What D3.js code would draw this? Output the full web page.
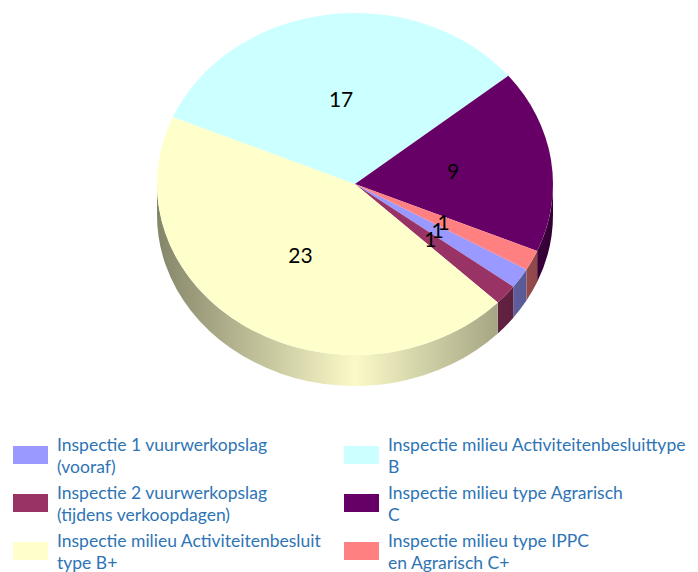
<!DOCTYPE html>
<html>
<head>
<meta charset="utf-8">
<script src="https://cdn.jsdelivr.net/npm/d3@7"></script>
<style>
  body { margin: 0; background: #fff; }
  svg { display: block; }
</style>
</head>
<body>
<script>
// slice data, in legend order (column by column)
var categories = [
    "Inspectie 1 vuurwerkopslag\n(vooraf)",
    "Inspectie 2 vuurwerkopslag\n(tijdens verkoopdagen)",
    "Inspectie milieu Activiteitenbesluit\ntype B+",
    "Inspectie milieu Activiteitenbesluittype\nB",
    "Inspectie milieu type Agrarisch\nC",
    "Inspectie milieu type IPPC\nen Agrarisch C+"
];
var values = [1, 1, 23, 17, 9, 1];
var colors = ["#9999ff", "#993366", "#ffffcc", "#ccffff", "#660066", "#ff8080"];

var width = 698, height = 572;
var cx = 355, cy = 184, rx = 198, ry = 171, depth = 31;

var svg = d3.select("body").append("svg")
    .attr("width", width)
    .attr("height", height);

var defs = svg.append("defs");

var pie = d3.pie()
    .sort(null)
    .startAngle(120 * Math.PI / 180)
    .endAngle(120 * Math.PI / 180 + 2 * Math.PI);

var arcs = pie(values);

// point on the top ellipse for a d3 angle (0 = 12 o'clock, clockwise)
function pt(a, dy) {
    return [cx + rx * Math.sin(a), cy - ry * Math.cos(a) + (dy || 0)];
}

// shading of the side wall, dark at the edges and light in front
var shade = d3.scaleLinear().domain([0, 0.5, 1]).range([0.52, 0.98, 0.52]);
colors.forEach(function(c, i) {
    var g = defs.append("linearGradient")
        .attr("id", "side" + i)
        .attr("gradientUnits", "userSpaceOnUse")
        .attr("x1", cx - rx).attr("x2", cx + rx)
        .attr("y1", 0).attr("y2", 0);
    [0, 0.15, 0.3, 0.42, 0.5, 0.58, 0.7, 0.85, 1].forEach(function(o) {
        var k = shade(o);
        var col = d3.rgb(c);
        g.append("stop")
            .attr("offset", o)
            .attr("stop-color", d3.rgb(col.r * k, col.g * k, col.b * k));
    });
});

// side walls, only the front half (pi/2 .. 3pi/2) shows
var sides = svg.append("g");
arcs.forEach(function(d, i) {
    var segs = [[Math.PI / 2, 3 * Math.PI / 2], [Math.PI / 2 + 2 * Math.PI, 3 * Math.PI / 2 + 2 * Math.PI]];
    segs.forEach(function(s) {
        var a0 = Math.max(d.startAngle, s[0]), a1 = Math.min(d.endAngle, s[1]);
        if (a1 <= a0) return;
        var p0 = pt(a0), p1 = pt(a1), q1 = pt(a1, depth), q0 = pt(a0, depth);
        var large = (a1 - a0) > Math.PI ? 1 : 0;
        sides.append("path")
            .attr("d", "M" + p0 + "A" + rx + "," + ry + " 0 " + large + " 1 " + p1 +
                "L" + q1 + "A" + rx + "," + ry + " 0 " + large + " 0 " + q0 + "Z")
            .attr("fill", "url(#side" + i + ")");
    });
});

// top faces
var tops = svg.append("g");
arcs.forEach(function(d, i) {
    var p0 = pt(d.startAngle), p1 = pt(d.endAngle);
    var large = (d.endAngle - d.startAngle) > Math.PI ? 1 : 0;
    tops.append("path")
        .attr("d", "M" + cx + "," + cy + "L" + p0 + "A" + rx + "," + ry + " 0 " + large + " 1 " + p1 + "Z")
        .attr("fill", colors[i]);
});

// value labels at half the radius
svg.append("g").selectAll("text")
    .data(arcs)
    .join("text")
    .attr("x", function(d) { return pt((d.startAngle + d.endAngle) / 2)[0] * 0.5 + cx * 0.5; })
    .attr("y", function(d) { return pt((d.startAngle + d.endAngle) / 2)[1] * 0.5 + cy * 0.5; })
    .attr("text-anchor", "middle")
    .attr("dy", "0.35em")
    .style("font-family", "Lato, 'Open Sans', sans-serif")
    .style("font-size", "21px")
    .attr("fill", "#000")
    .text(function(d) { return d.value; });

// legend, two columns of three
var legend = svg.append("g")
    .selectAll("g")
    .data(categories)
    .join("g")
    .attr("transform", function(d, i) {
        return "translate(" + (Math.floor(i / 3) * 331 + 13) + "," + (446 + (i % 3) * 48) + ")";
    });

legend.append("rect")
    .attr("width", 35)
    .attr("height", 18)
    .attr("fill", function(d, i) { return colors[i]; });

legend.append("text")
    .attr("x", 44)
    .attr("y", 5)
    .style("font-family", "Lato, 'Open Sans', sans-serif")
    .style("font-size", "17.5px")
    .attr("fill", "#2e74b5")
    .selectAll("tspan")
    .data(function(d) { return d.split("\n"); })
    .join("tspan")
    .attr("x", 44)
    .attr("dy", function(d, j) { return j ? 22 : 0; })
    .text(function(d) { return d; });
</script>
</body>
</html>
